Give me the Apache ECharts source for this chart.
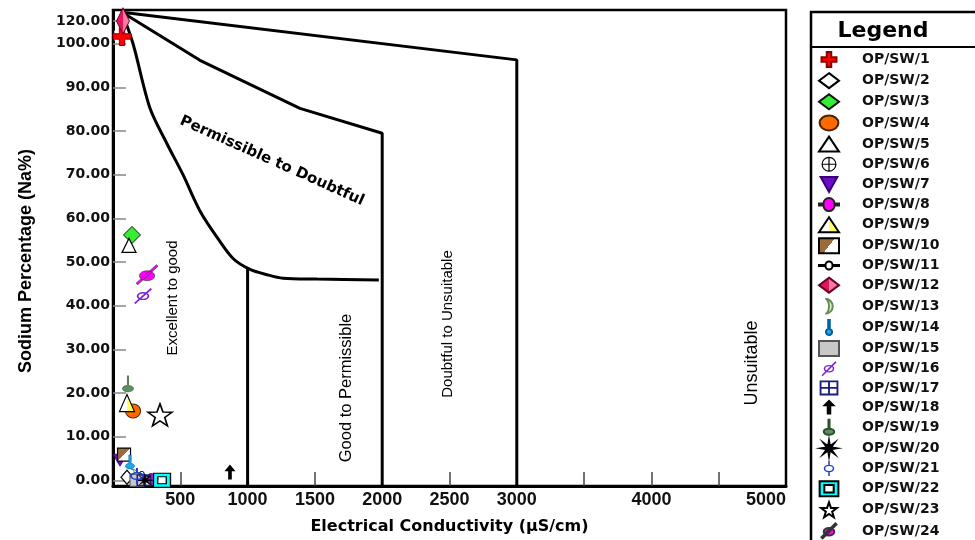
<!DOCTYPE html>
<html>
<head>
<meta charset="utf-8">
<script src="https://cdn.jsdelivr.net/npm/echarts@6/dist/echarts.min.js"></script>
<style>
  html, body { margin: 0; padding: 0; background: #fff; }
  #main { width: 975px; height: 540px; }
</style>
</head>
<body>
<div id="main"></div>
<script>
// sample points (EC in µS/cm, Na %)
var sampleNames = ['OP/SW/1', 'OP/SW/2', 'OP/SW/3', 'OP/SW/4', 'OP/SW/5', 'OP/SW/6', 'OP/SW/7', 'OP/SW/8',
    'OP/SW/9', 'OP/SW/10', 'OP/SW/11', 'OP/SW/12', 'OP/SW/13', 'OP/SW/14', 'OP/SW/15', 'OP/SW/16',
    'OP/SW/17', 'OP/SW/18', 'OP/SW/19', 'OP/SW/20', 'OP/SW/21', 'OP/SW/22', 'OP/SW/23', 'OP/SW/24'];
var ecValues = [67, 104, 141, 149, 119, 193, 52, 282, 104, 82, 215, 74, 163, 126, 178, 223, 230, 869, 111, 238, 178, 364, 349, 253];
var naValues = [108, 0.7, 56.2, 15.9, 53.8, 0.3, 4.6, 0.3, 17.7, 5.9, 1.0, 120, 1.0, 4.2, 0, 42.2, 0, 1.9, 22.1, 0, 1.0, 0, 15.0, 47.1];

// Wilcox class boundaries
var curveAEc = [67, 149, 275, 401, 520, 646, 772, 892, 1018, 1144, 1263, 1516, 1975];
var curveANa = [122, 100, 85.2, 77.1, 70, 61.7, 55.7, 50.8, 48.3, 47.1, 46.3, 46.1, 45.9];
var curveBEc = [67, 646, 1389, 2000, 2000];
var curveBNa = [122, 96.2, 85.2, 79.5, -1.3];
var curveCEc = [67, 3000, 3000];
var curveCNa = [122, 96.3, -1.3];
var line1000Ec = [1000, 1000];
var line1000Na = [48.6, -1.3];

// axis ticks / labels
var xTickValues = [500, 1000, 1500, 2000, 2500, 3000, 3500, 4000, 4500];
var xLabelValues = [500, 1000, 1500, 2000, 2500, 3000, 4000, 5000];
var yLabelValues = [0, 10, 20, 30, 40, 50, 60, 70, 80, 90, 100, 120];

function zip(xs, ys) {
    return xs.map(function (x, i) { return [x, ys[i]]; });
}
function split(c1, c2, dx, dy) {
    return {
        type: 'linear', x: 0, y: 0, x2: dx, y2: dy,
        colorStops: [{offset: 0, color: c1}, {offset: 0.5, color: c1}, {offset: 0.5, color: c2}, {offset: 1, color: c2}]
    };
}

var markerStyles = [
    {symbol: 'path://M7,0H13V7H20V13H13V20H7V13H0V7H7Z', size: [18, 18], color: '#ff0000', border: '#8b0000', bw: 1},
    {symbol: 'diamond', size: [12, 14], color: '#ffffff', border: '#000', bw: 1.2},
    {symbol: 'diamond', size: [17, 17], color: '#33ee33', border: '#111', bw: 1},
    {symbol: 'path://M0,10A10,8 0 1,1 20,10A10,8 0 1,1 0,10Z', size: [15, 14], color: '#ff6a00', border: '#4a2200', bw: 1},
    {symbol: 'triangle', size: [14, 14], color: '#ffffff', border: '#000', bw: 1.2},
    {symbol: 'path://M0,10A10,10 0 1,1 20,10A10,10 0 1,1 0,10Z M1.6,10A8.4,8.4 0 1,0 18.4,10A8.4,8.4 0 1,0 1.6,10Z M9.2,1.5H10.8V18.5H9.2Z M1.5,9.2H18.5V10.8H1.5Z', size: [13, 13], color: '#000', border: '#000', bw: 0},
    {symbol: 'path://M0,0H20L10,18Z', size: [14, 12], color: '#6a0dcc', border: '#3a0070', bw: 0.8},
    {symbol: 'path://M0,9H4.5A5.5,5.5 0 0,1 15.5,9H20V11H15.5A5.5,5.5 0 0,1 4.5,11H0Z', size: [14, 11], color: '#ff00ff', border: '#222', bw: 0.8},
    {symbol: 'triangle', size: [15, 17], color: split('#ffffff', '#ffff66', 1, 0), border: '#000', bw: 1.2},
    {symbol: 'rect', size: [13, 13], color: split('#9c6b3a', '#ffffff', 1, 1), border: '#000', bw: 1.2},
    {symbol: 'path://M0,9.4H6.5A3.5,3.5 0 0,1 13.5,9.4H20V10.6H13.5A3.5,3.5 0 0,1 6.5,10.6H0Z', size: [14, 9], color: '#ffffff', border: '#000', bw: 1},
    {symbol: 'diamond', size: [13, 26], color: split('#e0185a', '#ff7aa0', 1, 0), border: '#6b0025', bw: 1},
    {symbol: 'path://M4,0A10,10 0 0,1 4,20A5,10 0 0,0 4,0Z', size: [8, 14], color: '#d9f7c0', border: '#6a8a5a', bw: 0.8},
    {symbol: 'path://M9,0H11V11.6A4,4 0 1,1 9,11.6Z', size: [9, 14], color: '#20a8e8', border: '#005f9e', bw: 0.6},
    {symbol: 'rect', size: [14, 12], color: '#c8c8c8', border: '#555', bw: 1},
    {symbol: 'path://M3,10A7,5 0 1,1 17,10A7,5 0 1,1 3,10Z M5,10A5,3.2 0 1,0 15,10A5,3.2 0 1,0 5,10Z M0,18.5L18.5,0L20,1.5L1.5,20Z', size: [18, 16], color: '#7a22d6', border: '#7a22d6', bw: 0},
    {symbol: 'path://M0,0H20V16H0Z M2,2V7H9V2Z M11,2V7H18V2Z M2,9V14H9V9Z M11,9V14H18V9Z', size: [15, 12], color: '#1c1c80', border: '#1c1c80', bw: 0},
    {symbol: 'path://M10,0L19,9H13V20H7V9H1Z', size: [11, 15], color: '#000', border: '#000', bw: 0},
    {symbol: 'path://M9.3,0H10.7V12A7,4 0 1,1 9.3,12Z', size: [11, 16], color: '#5e8f5e', border: '#2e4f2e', bw: 0.6},
    {symbol: 'path://M20,10L12.77,11.15L17.07,17.07L11.15,12.77L10,20L8.85,12.77L2.93,17.07L7.23,11.15L0,10L7.23,8.85L2.93,2.93L8.85,7.23L10,0L11.15,7.23L17.07,2.93L12.77,8.85Z', size: [16, 12], color: '#000', border: '#000', bw: 0.5},
    {symbol: 'path://M9,0H11V5.2H9Z M9,14.8H11V20H9Z M3,10A7,5 0 1,1 17,10A7,5 0 1,1 3,10Z M5,10A5,3.2 0 1,0 15,10A5,3.2 0 1,0 5,10Z', size: [14, 16], color: '#1f3fd0', border: '#1f3fd0', bw: 0},
    {symbol: 'path://M0,0H20V16H0Z M5,4V12H15V4Z', size: [17, 14], color: '#00ffff', border: '#000', bw: 1.2},
    {symbol: 'path://M10,0L12.35,6.76L19.51,6.91L13.8,11.24L15.88,18.09L10,14L4.12,18.09L6.2,11.24L0.49,6.91L7.65,6.76Z', size: [24, 22], color: '#ffffff', border: '#000', bw: 1.6},
    {symbol: 'path://M3,11A7,5 0 1,1 17,11A7,5 0 1,1 3,11Z M0,18.5L18.5,0L20,1.5L1.5,20Z', size: [22, 20], color: '#ff00ff', border: '#333', bw: 0.6}
];

var myChart = echarts.init(document.getElementById('main'));

var lineStyle = {color: '#000', width: 3};
var series = [
    {name: 'bA', type: 'line', data: zip(curveAEc, curveANa), smooth: 0.3, symbol: 'none', lineStyle: lineStyle, silent: true, z: 1},
    {name: 'bB', type: 'line', data: zip(curveBEc, curveBNa), symbol: 'none', lineStyle: lineStyle, silent: true, z: 1},
    {name: 'bC', type: 'line', data: zip(curveCEc, curveCNa), symbol: 'none', lineStyle: lineStyle, silent: true, z: 1},
    {name: 'b1000', type: 'line', data: zip(line1000Ec, line1000Na), symbol: 'none', lineStyle: lineStyle, silent: true, z: 1}
];

sampleNames.forEach(function (name, i) {
    var m = markerStyles[i];
    series.push({
        name: name,
        type: 'scatter',
        data: [[ecValues[i], naValues[i]]],
        symbol: m.symbol,
        symbolSize: m.size,
        clip: false,
        z: 3,
        itemStyle: {color: m.color, borderColor: m.border, borderWidth: m.bw, opacity: 1}
    });
});

var option = {
    backgroundColor: '#fff',
    animation: false,
    grid: {
        left: 113, right: 189, top: 10, bottom: 53,
        show: true, borderColor: '#000', borderWidth: 2.5
    },
    xAxis: {
        type: 'value',
        min: 0,
        max: 5000,
        name: 'Electrical Conductivity (µS/cm)',
        nameLocation: 'middle',
        nameGap: 33,
        nameTextStyle: {fontFamily: 'DejaVu Sans', fontWeight: 'bold', fontSize: 16, color: '#000'},
        axisLine: {onZero: false, lineStyle: {color: '#000', width: 3}},
        axisTick: {inside: true, length: 14, customValues: xTickValues, lineStyle: {color: '#444', width: 1.5}},
        axisLabel: {
            customValues: xLabelValues, margin: 5, alignMaxLabel: 'right',
            formatter: function (v) { return String(v); },
            fontFamily: 'Liberation Sans', fontWeight: 'bold', fontSize: 18, color: '#111'
        },
        splitLine: {show: false}
    },
    yAxis: {
        type: 'value',
        min: -1.3,
        max: 122.5,
        breaks: [{start: 100.5, end: 118, gap: '2.5%'}],
        breakArea: {
            show: false,
            expandOnClick: false,
            zigzagAmplitude: 0,
            itemStyle: {color: 'rgba(0,0,0,0)', borderWidth: 0, opacity: 0}
        },
        name: 'Sodium Percentage (Na%)',
        nameLocation: 'middle',
        nameGap: 78,
        nameTextStyle: {fontFamily: 'Liberation Sans', fontWeight: 'bold', fontSize: 18, color: '#000', padding: [0, 26, 0, 0]},
        axisLine: {onZero: false, lineStyle: {color: '#000', width: 3}},
        axisTick: {inside: true, length: 13, customValues: yLabelValues, lineStyle: {color: '#888', width: 1.5}},
        axisLabel: {
            customValues: yLabelValues, margin: 3,
            formatter: function (v) { return v.toFixed(2); },
            fontFamily: 'DejaVu Sans', fontWeight: 'bold', fontSize: 14, color: '#111'
        },
        splitLine: {show: false}
    },
    legend: {
        orient: 'vertical',
        left: 818,
        top: 51,
        height: 535,
        padding: 0,
        itemWidth: 20,
        itemHeight: 15,
        itemGap: 4.15,
        selectedMode: false,
        data: sampleNames,
        textStyle: {fontFamily: 'DejaVu Sans', fontWeight: 'bold', fontSize: 14, color: '#111', padding: [0, 0, 0, 18]}
    },
    graphic: [
        {type: 'rect', shape: {x: 811, y: 12, width: 200, height: 560}, style: {fill: 'rgba(0,0,0,0)', stroke: '#000', lineWidth: 2.5}, silent: true},
        {type: 'line', shape: {x1: 811, y1: 47, x2: 975, y2: 47}, style: {stroke: '#000', lineWidth: 2}, silent: true},
        {type: 'text', x: 883, y: 31, style: {text: 'Legend', font: 'bold 22px "DejaVu Sans"', fill: '#000', align: 'center', verticalAlign: 'middle', textAlign: 'center', textVerticalAlign: 'middle'}},
        {type: 'text', x: 272, y: 161, rotation: -0.42, style: {text: 'Permissible to Doubtful', font: 'bold 15px "DejaVu Sans"', fill: '#000', align: 'center', verticalAlign: 'middle', textAlign: 'center', textVerticalAlign: 'middle'}},
        {type: 'text', x: 173, y: 298, rotation: Math.PI / 2, style: {text: 'Excellent to good', font: '15px "Liberation Sans"', fill: '#000', align: 'center', verticalAlign: 'middle', textAlign: 'center', textVerticalAlign: 'middle'}},
        {type: 'text', x: 346, y: 388, rotation: Math.PI / 2, style: {text: 'Good to Permissible', font: '16.5px "Liberation Sans"', fill: '#000', align: 'center', verticalAlign: 'middle', textAlign: 'center', textVerticalAlign: 'middle'}},
        {type: 'text', x: 448, y: 324, rotation: Math.PI / 2, style: {text: 'Doubtful to Unsuitable', font: '15px "Liberation Sans"', fill: '#000', align: 'center', verticalAlign: 'middle', textAlign: 'center', textVerticalAlign: 'middle'}},
        {type: 'text', x: 752, y: 363, rotation: Math.PI / 2, style: {text: 'Unsuitable', font: '18px "Liberation Sans"', fill: '#000', align: 'center', verticalAlign: 'middle', textAlign: 'center', textVerticalAlign: 'middle'}}
    ],
    series: series
};

myChart.setOption(option);
window.addEventListener('resize', function () {
    myChart.resize();
});
</script>
</body>
</html>
